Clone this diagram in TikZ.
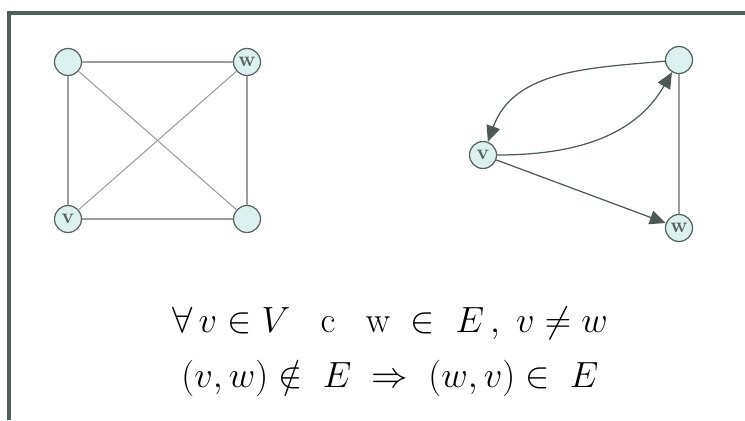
\documentclass[tikz,border=0pt]{standalone}
\usetikzlibrary{arrows.meta}
\definecolor{nodefill}{HTML}{DDF0F0}
\definecolor{nodeline}{HTML}{56625E}
\definecolor{edgegray}{HTML}{9A9E9C}
\definecolor{arcdark}{HTML}{4E5956}
\definecolor{framecol}{HTML}{4D6159}
\begin{document}
\begin{tikzpicture}[
    vert/.style={circle, draw=nodeline, fill=nodefill, line width=0.7pt,
      minimum size=0.54cm, inner sep=0pt, font=\large\bfseries, text=nodeline},
    edge/.style={draw=edgegray, line width=0.6pt},
    arc/.style={draw=arcdark, line width=0.7pt, -{Triangle[length=3.2mm, width=2.8mm]}},
    formula/.style={inner sep=0pt, anchor=base, font=\fontsize{20}{24}\selectfont}
  ]
  \useasboundingbox (0,0) rectangle (14.9,8.4);
  % Frame (only top and left edges are visible)
  \draw[framecol, line width=2pt] (0.18,0) -- (0.18,8.14) -- (14.9,8.14);
  % Undirected complete graph
  \node[vert] (a) at (1.36,7.16) {};
  \node[vert] (w1) at (4.94,7.16) {w};
  \node[vert] (v1) at (1.36,4.02) {v};
  \node[vert] (b) at (4.94,4.02) {};
  \draw[edge] (a) -- (w1);
  \draw[edge] (a) -- (v1);
  \draw[edge] (a) -- (b);
  \draw[edge] (v1) -- (w1);
  \draw[edge] (v1) -- (b);
  \draw[edge] (w1) -- (b);
  % Directed graph
  \node[vert] (t) at (13.58,7.2) {};
  \node[vert] (v2) at (9.66,5.3) {v};
  \node[vert] (w2) at (13.58,3.84) {w};
  \draw[arc] (t) to[out=185, in=70] (v2);
  \draw[arc] (v2) to[out=0, in=240] (t);
  \draw[arc] (v2) -- (w2);
  \draw[edge] (t) -- (w2);
  % Formulas
  \node[formula] (f1) at (7.8,1.74)
    {$\forall\, v \in V \;\;\; \mathrm{c} \;\;\; \mathrm{w} \;\in\; E\,,\; v \neq w$};
  \node[formula] (f2) at (7.8,0.66)
    {$(v, w) \notin\; E \;\Rightarrow\; (w, v) \in\; E$};
\end{tikzpicture}
\end{document}
